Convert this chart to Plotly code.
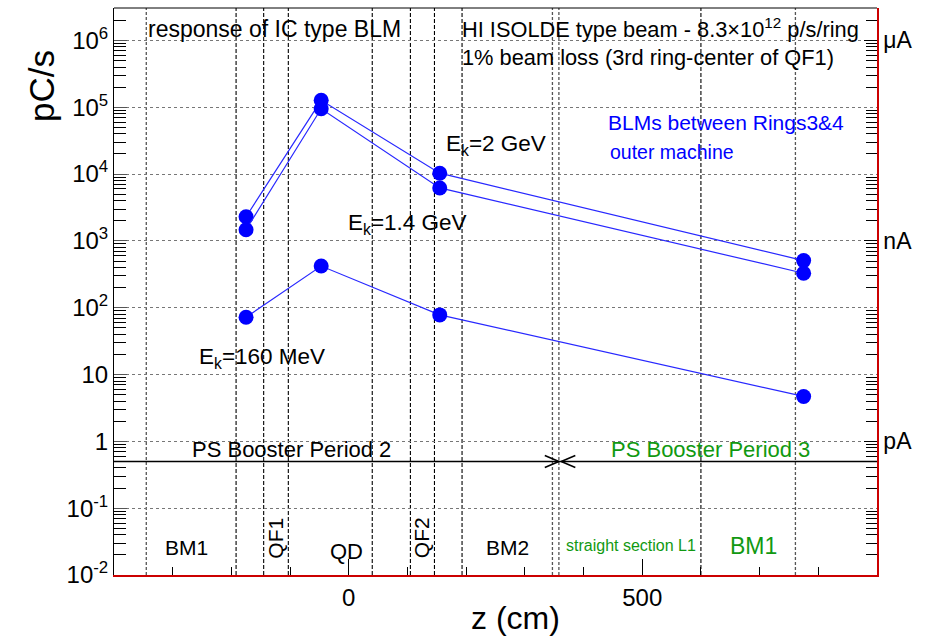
import numpy as np
import plotly.graph_objects as go

# BLM positions along z (cm) and response (pC/s) per beam energy
z_cm = [-175, -47, 155, 775]
ek_2gev = [2300, 1.27e5, 1.03e4, 507]
ek_1p4gev = [1470, 9.5e4, 6.2e3, 328]
ek_160mev = [72, 420, 78, 4.7]

# lattice element boundaries (cm)
bounds_dark = [-192, -145, -103, 40, 105, 146, 193, 600]
bounds_light = [-345, 347, 358, 761]

# booster period split
period_level = 0.5
period_split = 358

x_range = [-400, 900]
y_range_log = [-2, 6.485]

decade_vals = [1e-2, 1e-1, 1, 10, 1e2, 1e3, 1e4, 1e5, 1e6]
decade_text = ["10<sup>-2</sup>", "10<sup>-1</sup>", "1", "10", "10<sup>2</sup>",
               "10<sup>3</sup>", "10<sup>4</sup>", "10<sup>5</sup>", "10<sup>6</sup>"]
current_vals = [1e6, 1e3, 1]
current_text = ["\u03bcA", "nA", "pA"]

# element labels: text, z, log10(y), angle, colour, size
element_labels = [
    ("BM1", -277, -1.585, 0, "black", 21),
    ("QF1", -125, -1.45, -90, "black", 21),
    ("QD", -4, -1.65, 0, "black", 22),
    ("QF2", 123, -1.435, -90, "black", 21),
    ("BM2", 270, -1.585, 0, "black", 21),
    ("straight section L1", 481, -1.56, 0, "#119911", 16),
    ("BM1", 690, -1.57, 0, "#119911", 23),
]

FONT = "Liberation Sans, Arial, sans-serif"
BLUE = "#0000ff"
GREEN = "#119911"

fig = go.Figure()

for vals in (ek_2gev, ek_1p4gev, ek_160mev):
    fig.add_trace(go.Scatter(
        x=z_cm, y=vals, mode="lines+markers",
        line=dict(color="#2828ff", width=1.2),
        marker=dict(color=BLUE, size=15),
        showlegend=False, hoverinfo="x+y"))

# period line with open arrowheads meeting at the split
arm_dx = 24
arm_f = 10 ** 0.09
fig.add_trace(go.Scatter(
    x=[x_range[0], period_split], y=[period_level, period_level],
    mode="lines", line=dict(color="black", width=1.5), showlegend=False, hoverinfo="skip"))
fig.add_trace(go.Scatter(
    x=[period_split, x_range[1]], y=[period_level, period_level],
    mode="lines", line=dict(color="black", width=1.5), showlegend=False, hoverinfo="skip"))
fig.add_trace(go.Scatter(
    x=[period_split - arm_dx, period_split, period_split - arm_dx],
    y=[period_level * arm_f, period_level, period_level / arm_f],
    mode="lines", line=dict(color="black", width=1.5), showlegend=False, hoverinfo="skip"))
fig.add_trace(go.Scatter(
    x=[period_split + 4 + arm_dx, period_split + 4, period_split + 4 + arm_dx],
    y=[period_level * arm_f, period_level, period_level / arm_f],
    mode="lines", line=dict(color="black", width=1.5), showlegend=False, hoverinfo="skip"))

# invisible trace so the right-hand current axis is drawn
fig.add_trace(go.Scatter(x=[0], y=[1], yaxis="y2", mode="markers",
                         marker=dict(opacity=0), showlegend=False, hoverinfo="skip"))

shapes = []
for b in bounds_dark:
    shapes.append(dict(type="line", xref="x", yref="paper", x0=b, x1=b, y0=0, y1=1,
                       line=dict(color="black", width=1.1, dash="4px,2px"), layer="below"))
for b in bounds_light:
    shapes.append(dict(type="line", xref="x", yref="paper", x0=b, x1=b, y0=0, y1=1,
                       line=dict(color="#555555", width=1.3, dash="3px,2px"), layer="below"))
# top frame edge
shapes.append(dict(type="line", xref="paper", yref="paper", x0=0, x1=1, y0=1, y1=1,
                   line=dict(color="black", width=1)))

annotations = []


def note(text, x, y, size=21, color="black", xanchor="left", angle=0, xref="x", yref="y"):
    annotations.append(dict(text=text, x=x, y=y, xref=xref, yref=yref, showarrow=False,
                            xanchor=xanchor, yanchor="middle", textangle=angle,
                            font=dict(family=FONT, size=size, color=color)))


note("response of IC type BLM", -346, 6.165, size=23)
note("HI ISOLDE type beam - 8.3\u00d710<sup>12</sup> p/s/ring", 190, 6.18, size=21.8)
note("1% beam loss (3rd ring-center of QF1)", 190, 5.745, size=21.8)
note("BLMs between Rings3&4", 439, 4.77, size=21)
annotations[-1]["font"]["color"] = BLUE
note("outer machine", 442, 4.33, size=19.5, color=BLUE)
note("E<sub>k</sub>=2 GeV", 163, 4.44, size=22.5)
note("E<sub>k</sub>=1.4 GeV", -4, 3.255, size=22.5)
note("E<sub>k</sub>=160 MeV", -258, 1.245, size=22.5)
note("PS Booster Period 2", -271, -0.12, size=22)
note("PS Booster Period 3", 444, -0.12, size=22, color=GREEN)
for text, zx, ly, ang, col, sz in element_labels:
    note(text, zx, ly, size=sz, color=col, xanchor="center", angle=ang)

note("pC/s", -0.096, 0.862, size=35, xanchor="center", angle=-90, xref="paper", yref="paper")
note("z (cm)", 0.5256, -0.076, size=32, xanchor="center", xref="paper", yref="paper")

minor_y = [m * 10.0 ** k for k in range(-2, 7) for m in range(2, 10)
           if m * 10.0 ** k < 10 ** y_range_log[1]]

fig.update_layout(
    width=927, height=638,
    margin=dict(l=114, r=50, t=8, b=63),
    paper_bgcolor="white", plot_bgcolor="white",
    font=dict(family=FONT, size=22, color="black"),
    shapes=shapes, annotations=annotations,
    xaxis=dict(range=x_range, showgrid=False, zeroline=False,
               showline=True, linecolor="#cc0000", linewidth=2,
               ticks="inside", ticklen=16, tickcolor="black", tickwidth=1,
               tick0=0, dtick=500, tickfont=dict(size=24),
               minor=dict(ticks="inside", ticklen=8, tickcolor="black", dtick=100, tick0=0,
                          showgrid=False)),
    yaxis=dict(type="log", range=y_range_log, showline=True, linecolor="black", linewidth=1,
               zeroline=False, tickmode="array", tickvals=decade_vals, ticktext=decade_text,
               ticks="inside", ticklen=13, tickcolor="#555555", tickfont=dict(size=24),
               showgrid=True, gridcolor="#777777", griddash="dot", gridwidth=1,
               minor=dict(ticks="inside", ticklen=12, tickcolor="black", tickvals=minor_y,
                          showgrid=False)),
    yaxis2=dict(type="log", range=y_range_log, overlaying="y", side="right",
                showline=True, linecolor="#cc0000", linewidth=1.5, zeroline=False,
                showgrid=False, tickmode="array", tickvals=current_vals, ticktext=current_text,
                ticks="inside", ticklen=13, tickcolor="black", tickfont=dict(size=23),
                minor=dict(ticks="inside", ticklen=11, tickcolor="black", tickvals=minor_y,
                           showgrid=False)),
)

fig.write_html("out.html")
